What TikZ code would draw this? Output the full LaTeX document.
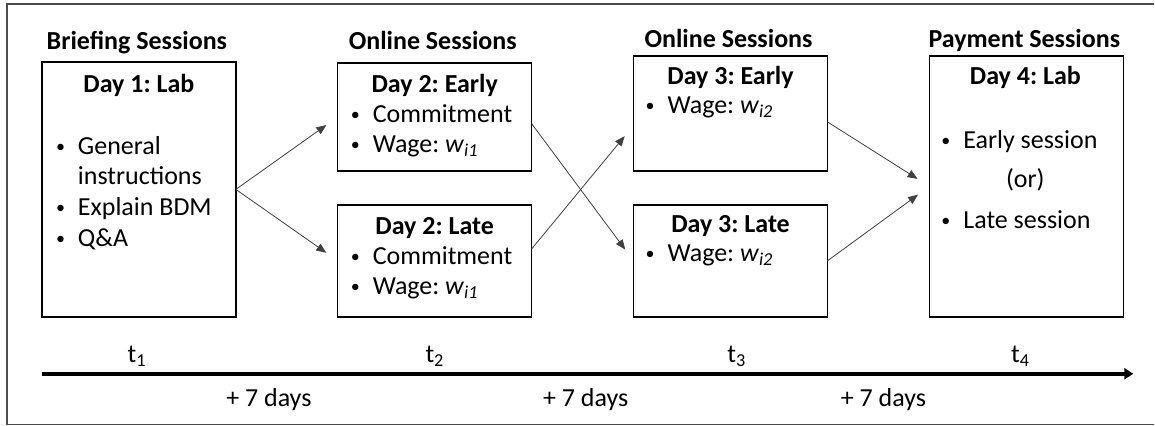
\documentclass[tikz,border=0pt]{standalone}
\usepackage{fontspec}
\setmainfont{Carlito}
\usepackage{tikz}
\usetikzlibrary{arrows.meta}
\frenchspacing

\newcommand{\wg}[1]{\textit{w}\textsubscript{\textit{#1}}}
\newcommand{\itm}{\llap{\raisebox{2pt}{\fontsize{18}{20}\selectfont\textbullet}\hspace{13pt}}}

\begin{document}
\begin{tikzpicture}[x=1pt,y=-1pt,
  every node/.style={font=\fontsize{26}{31}\selectfont, inner sep=0pt, outer sep=0pt},
  sess/.style={draw, line width=1.4pt, minimum width=194pt, anchor=north west},
  hd/.style={font=\fontsize{26}{31}\selectfont\bfseries, anchor=base},
  li/.style={anchor=base west},
  conn/.style={-{Triangle[length=10pt,width=8pt]}, line width=0.8pt, draw=black!75, shorten >=14pt}]
  \path[fill=white] (0,0) rectangle (1155,426);
  \draw[line width=1.5pt, draw=black!70] (1155,4) -- (7,4) -- (7,425) -- (1155,425);

  \node[sess, minimum height=255pt] (day1) at (42,62) {};
  \node[sess, minimum height=108pt] (early2) at (338,63) {};
  \node[sess, minimum height=112pt] (late2) at (338,205) {};
  \node[sess, minimum height=115pt] (early3) at (634,56) {};
  \node[sess, minimum height=112pt] (late3) at (634,205) {};
  \node[sess, minimum height=261pt] (day4) at (930,56) {};

  \node[hd] (hbrief) at (137,50) {Briefing Sessions};
  \node[hd] (honline2) at (433,50) {Online Sessions};
  \node[hd] (honline3) at (729,48) {Online Sessions};
  \node[hd] (hpay) at (1025,48) {Payment Sessions};

  \node[hd] (tday1) at (139,93) {Day 1: Lab};
  \node[li] (gen) at (78,155) {\itm General};
  \node[li] (instr) at (78,185) {instructions};
  \node[li] (bdm) at (78,216) {\itm Explain BDM};
  \node[li] (qa) at (78,247) {\itm Q\&A};

  \node[hd] (tearly2) at (435,93) {Day 2: Early};
  \node[li] (com2e) at (373,123) {\itm Commitment};
  \node[li] (wage2e) at (373,153) {\itm Wage: \wg{i1}};
  \node[hd] (tlate2) at (435,235) {Day 2: Late};
  \node[li] (com2l) at (373,265) {\itm Commitment};
  \node[li] (wage2l) at (373,295) {\itm Wage: \wg{i1}};

  \node[hd] (tearly3) at (731,85) {Day 3: Early};
  \node[li] (wage3e) at (668,114) {\itm Wage: \wg{i2}};
  \node[hd] (tlate3) at (731,233) {Day 3: Late};
  \node[li] (wage3l) at (668,262) {\itm Wage: \wg{i2}};

  \node[hd] (tday4) at (1026,85) {Day 4: Lab};
  \node[li] (es) at (964,149) {\itm Early session};
  \node[anchor=base] (orr) at (1026,188) {(or)};
  \node[li] (ls) at (964,229) {\itm Late session};

  \draw[conn] (day1.east) -- (early2.west);
  \draw[conn] (day1.east) -- (late2.west);
  \draw[conn] (early2.-4) -- (late3.west);
  \draw[conn] (late2.7) -- (early3.187);
  \draw[conn] (early3.-5.6) -- (day4.west);
  \draw[conn] (late3.east) -- (day4.west);

  \coordinate (tl0) at (42,374);
  \coordinate (tl1) at (1134,374);
  \draw[line width=4pt, -{Triangle[length=9pt,width=11pt]}] (tl0) -- (tl1);
  \node[anchor=base] (t1) at (137,363) {t\textsubscript{1}};
  \node[anchor=base] (t2) at (435,363) {t\textsubscript{2}};
  \node[anchor=base] (t3) at (737,363) {t\textsubscript{3}};
  \node[anchor=base] (t4) at (1021,363) {t\textsubscript{4}};
  \node[anchor=base] (wk1) at (269,407) {+ 7 days};
  \node[anchor=base] (wk2) at (586,407) {+ 7 days};
  \node[anchor=base] (wk3) at (884,407) {+ 7 days};
\end{tikzpicture}
\end{document}
